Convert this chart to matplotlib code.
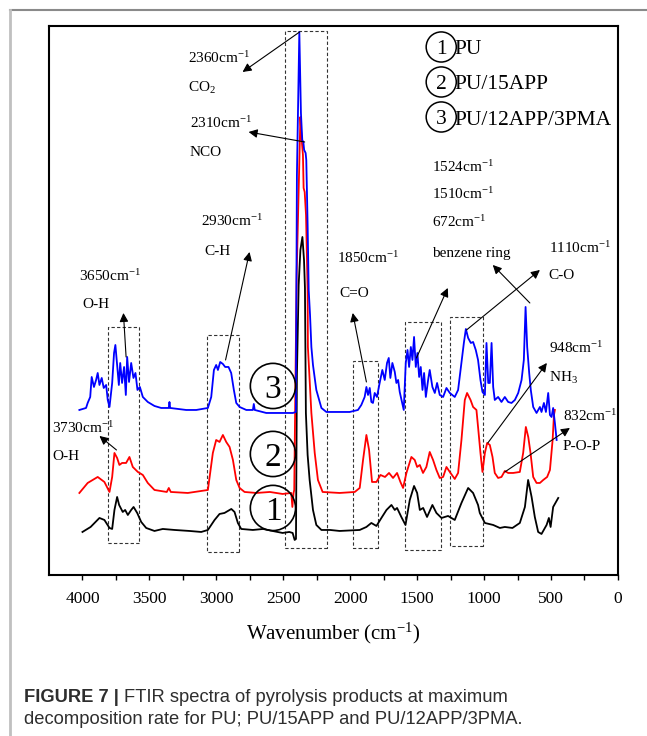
import matplotlib
matplotlib.use("Agg")
import matplotlib.pyplot as plt
from matplotlib.patches import Rectangle
from matplotlib.lines import Line2D

plt.rcParams["font.family"] = ["Liberation Serif", "DejaVu Serif"]
plt.rcParams["mathtext.fontset"] = "custom"
plt.rcParams["mathtext.rm"] = "Liberation Serif"
plt.rcParams["mathtext.it"] = "Liberation Serif:italic"

# ---- spectra (wavenumber in cm-1, intensity in a.u., curves offset) ----
pu_wn = [4000, 3939, 3873, 3836, 3798, 3778, 3761, 3741, 3726, 3699,
         3681, 3661, 3636, 3618, 3591, 3561, 3524, 3462, 3400, 3312,
         3200, 3113, 3063, 3013, 2976, 2939, 2888, 2864, 2839, 2814,
         2727, 2650, 2580, 2505, 2455, 2430, 2415, 2405, 2398, 2385,
         2372, 2357, 2345, 2338, 2331, 2318, 2303, 2278, 2253, 2215,
         2150, 2079, 1929, 1879, 1842, 1804, 1767, 1729, 1692, 1667,
         1650, 1618, 1587, 1555, 1523, 1500, 1480, 1455, 1426, 1386,
         1356, 1318, 1269, 1219, 1169, 1119, 1082, 1045, 1032, 994,
         932, 882, 845, 788, 733, 695, 671, 645, 621, 596,
         571, 533, 516, 503, 484, 446]
pu_ab = [4.3, 4.8, 5.7, 5.5, 4.7, 4.6, 6.5, 7.8, 7.0, 6.3,
         6.5, 6.0, 6.5, 6.8, 6.2, 5.3, 4.7, 4.4, 4.6, 4.5,
         4.4, 4.3, 4.5, 5.5, 6.1, 6.2, 6.6, 6.3, 5.2, 4.6,
         4.5, 4.6, 4.4, 4.2, 4.3, 4.2, 3.5, 3.6, 20.0, 29.0,
         32.5, 33.8, 31.5, 28.7, 16.2, 12.0, 9.5, 6.5, 5.0, 4.5,
         4.5, 4.4, 4.5, 4.8, 5.2, 4.9, 5.7, 6.5, 7.0, 6.5,
         6.7, 5.8, 5.0, 7.5, 8.9, 8.2, 6.5, 6.7, 5.8, 7.0,
         6.2, 5.7, 5.9, 5.5, 7.2, 8.7, 8.2, 7.0, 6.2, 5.2,
         5.0, 4.7, 4.8, 4.7, 5.2, 6.8, 9.5, 7.8, 5.8, 4.3,
         4.1, 5.0, 5.7, 4.8, 6.8, 7.7]

app_wn = [4023, 3961, 3886, 3836, 3798, 3778, 3761, 3741, 3724, 3704,
          3674, 3649, 3624, 3586, 3549, 3512, 3462, 3370, 3355, 3340,
          3213, 3113, 3063, 3026, 3001, 2976, 2951, 2926, 2901, 2876,
          2851, 2826, 2789, 2700, 2600, 2505, 2440, 2432, 2423, 2418,
          2400, 2372, 2365, 2353, 2348, 2340, 2330, 2318, 2316, 2303,
          2290, 2265, 2241, 2206, 2079, 1966, 1929, 1904, 1879, 1859,
          1837, 1804, 1774, 1740, 1710, 1680, 1650, 1625, 1605, 1580,
          1543, 1518, 1500, 1480, 1456, 1431, 1406, 1381, 1356, 1331,
          1306, 1281, 1256, 1219, 1194, 1169, 1144, 1127, 1101, 1082,
          1057, 1045, 1027, 1012, 994, 977, 957, 937, 920, 895,
          870, 845, 820, 783, 733, 708, 688, 670, 653, 633,
          608, 583, 558, 529, 508, 488, 478, 471]
app_ab = [8.2, 9.2, 9.8, 9.3, 8.3, 9.8, 12.2, 11.7, 11.0, 11.2,
          11.2, 11.8, 10.8, 10.3, 10.0, 9.2, 8.5, 8.3, 8.7, 8.3,
          8.2, 8.4, 8.5, 12.2, 13.5, 13.3, 14.0, 13.3, 12.8, 11.5,
          9.5, 8.7, 8.3, 8.2, 8.3, 8.1, 8.2, 6.8, 8.2, 8.5,
          30.0, 45.8, 44.0, 42.0, 38.7, 38.3, 36.0, 28.5, 22.8, 19.5,
          16.2, 12.2, 9.5, 8.3, 8.2, 8.3, 8.7, 11.5, 14.0, 12.5,
          9.3, 9.3, 10.0, 9.8, 10.2, 9.7, 10.2, 9.3, 8.7, 10.2,
          11.8, 11.5, 10.8, 11.0, 10.2, 10.8, 12.3, 11.5, 10.5, 9.7,
          9.8, 10.8, 10.3, 9.6, 10.2, 13.5, 17.5, 18.2, 17.5, 16.8,
          16.5, 14.8, 12.2, 10.3, 12.2, 13.2, 13.0, 11.8, 10.2, 9.7,
          9.8, 10.4, 10.2, 10.2, 10.3, 12.2, 14.8, 13.8, 12.2, 9.8,
          9.2, 9.2, 9.5, 9.8, 10.5, 13.5, 16.0, 16.5]

pma_wn = [4023, 3973, 3961, 3942, 3931, 3914, 3898, 3886, 3873, 3856,
          3841, 3823, 3811, 3798, 3778, 3764, 3754, 3741, 3728, 3718,
          3704, 3689, 3676, 3666, 3652, 3636, 3619, 3604, 3589, 3571,
          3549, 3512, 3462, 3412, 3355, 3350, 3345, 3225, 3150, 3063,
          3038, 3018, 3001, 2988, 2971, 2951, 2934, 2909, 2889, 2869,
          2851, 2826, 2776, 2727, 2720, 2713, 2627, 2428, 2406, 2398,
          2380, 2368, 2358, 2350, 2344, 2333, 2328, 2318, 2310, 2300,
          2290, 2278, 2253, 2215, 2178, 2079, 2004, 1942, 1917, 1892,
          1879, 1867, 1854, 1842, 1830, 1817, 1800, 1780, 1760, 1742,
          1725, 1712, 1700, 1685, 1667, 1655, 1642, 1630, 1613, 1600,
          1585, 1572, 1560, 1547, 1535, 1523, 1510, 1498, 1485, 1473,
          1460, 1448, 1435, 1418, 1406, 1386, 1368, 1351, 1331, 1306,
          1281, 1256, 1219, 1194, 1169, 1151, 1136, 1119, 1099, 1082,
          1062, 1045, 1027, 1012, 994, 982, 969, 957, 944, 932,
          920, 895, 870, 845, 820, 795, 770, 745, 720, 703,
          690, 678, 663, 651, 633, 608, 583, 571, 553, 538,
          521, 508, 496, 484, 471, 458]
pma_ab = [16.5, 16.7, 17.2, 17.8, 19.8, 18.8, 19.5, 20.2, 19.0, 19.7,
          18.7, 19.0, 17.5, 16.8, 19.2, 22.2, 23.0, 21.0, 19.0, 21.2,
          19.2, 20.8, 18.0, 21.8, 19.3, 21.2, 19.7, 20.2, 18.5, 18.8,
          17.8, 17.3, 16.9, 16.7, 16.7, 17.3, 16.7, 16.5, 16.5, 16.7,
          17.8, 20.5, 21.0, 20.5, 21.3, 21.1, 20.8, 20.8, 20.2, 18.5,
          17.2, 16.8, 16.5, 16.5, 17.1, 16.5, 16.2, 16.2, 16.3, 40.0,
          54.3, 46.2, 43.5, 43.3, 42.5, 42.2, 41.5, 35.0, 28.5, 26.0,
          22.8, 21.0, 18.5, 16.7, 16.3, 16.3, 16.3, 16.5, 17.0, 17.8,
          18.8, 18.0, 18.7, 17.3, 17.2, 18.2, 17.8, 19.2, 20.5, 19.5,
          21.2, 21.7, 19.7, 21.2, 20.3, 19.2, 19.5, 18.3, 17.3, 16.5,
          21.2, 22.5, 20.8, 22.8, 21.5, 23.8, 20.8, 22.2, 19.8, 20.8,
          18.5, 20.2, 17.8, 19.5, 20.5, 18.8, 18.2, 19.2, 18.0, 17.8,
          18.7, 18.2, 17.8, 18.5, 21.2, 23.2, 24.6, 23.7, 23.2, 23.3,
          22.5, 21.5, 19.5, 18.3, 18.0, 23.2, 19.2, 19.2, 23.2, 18.8,
          17.5, 17.8, 17.3, 17.8, 17.3, 17.2, 17.5, 18.2, 19.5, 21.5,
          26.8, 22.8, 20.2, 18.5, 16.8, 16.2, 16.8, 16.3, 17.2, 16.3,
          18.2, 16.0, 15.8, 16.7, 15.2, 13.5]

tick_vals = [4000, 3500, 3000, 2500, 2000, 1500, 1000, 500, 0]

# highlighted bands: (wn_high, wn_low, ab_low, ab_high)
bands = [(3811, 3574, 3.2, 24.8), (3068, 2832, 2.3, 24.0), (2485, 2174, 2.7, 54.4),
         (1979, 1792, 2.7, 21.4), (1587, 1323, 2.5, 25.3), (1256, 1007, 2.9, 25.8)]

# peak assignments: (text, x, y)
labels = [
    ("2360cm$^{-1}$", 3215, 51.2), ("CO$_2$", 3208, 48.3),
    ("2310cm$^{-1}$", 3200, 44.7), ("NCO", 3200, 41.9),
    ("2930cm$^{-1}$", 3118, 34.9), ("C-H", 3088, 32.0),
    ("3650cm$^{-1}$", 4023, 29.4), ("O-H", 3999, 26.7),
    ("3730cm$^{-1}$", 4224, 14.2), ("O-H", 4224, 11.5),
    ("1524cm$^{-1}$", 1391, 40.3), ("1510cm$^{-1}$", 1391, 37.6),
    ("672cm$^{-1}$", 1391, 34.8), ("benzene ring", 1391, 31.8),
    ("1110cm$^{-1}$", 516, 32.2), ("C-O", 516, 29.6),
    ("1850cm$^{-1}$", 2101, 31.2), ("C=O", 2079, 27.8),
    ("948cm$^{-1}$", 516, 22.2), ("NH$_3$", 516, 19.3),
    ("832cm$^{-1}$", 411, 15.4), ("P-O-P", 411, 12.5),
]

# arrows: (tail x, tail y, head x, head y)
arrows = [
    (2378, 54.3, 2804, 50.3), (2340, 43.3, 2759, 44.3), (2931, 21.5, 2752, 32.3),
    (3674, 21.8, 3694, 26.2), (3746, 12.5, 3873, 13.9), (1879, 19.3, 1981, 26.2),
    (1505, 21.7, 1271, 28.7), (1131, 24.5, 583, 30.5), (658, 27.2, 935, 31.0),
    (972, 13.2, 531, 21.2), (845, 10.3, 359, 14.7),
]

legend_names = ["PU", "PU/15APP", "PU/12APP/3PMA"]
legend_y = [52.8, 49.3, 45.8]
legend_text_y = [52.1, 48.6, 45.0]
curve_mark_y = [6.7, 12.1, 18.9]

fig = plt.figure(figsize=(6.47, 7.36), dpi=100)
ax = fig.add_axes([0.0757, 0.2188, 0.8794, 0.7459])

ax.plot(pu_wn, pu_ab, color="black", lw=1.3, zorder=3)
ax.plot(app_wn, app_ab, color="red", lw=1.3, zorder=3)
ax.plot(pma_wn, pma_ab, color="blue", lw=1.3, zorder=3)

for hi, lo, b, t in bands:
    ax.add_patch(Rectangle((lo, b), hi - lo, t - b, fill=False, ec="#333333",
                           lw=0.8, ls=(0, (3, 2)), zorder=2))

for txt, x, y in labels:
    ax.text(x, y, txt, fontsize=11, ha="left", va="baseline")

for x0, y0, x1, y1 in arrows:
    ax.annotate("", xy=(x1, y1), xytext=(x0, y0),
                arrowprops=dict(arrowstyle="-|>", color="black", lw=0.8,
                                mutation_scale=13, shrinkA=0, shrinkB=0))

# circled numbers: legend block and on the curves
for i, name in enumerate(legend_names):
    ax.scatter([1320], [legend_y[i]], s=470, facecolors="none",
               edgecolors="black", linewidths=1.1, zorder=5)
    ax.text(1320, legend_y[i], str(i + 1), fontsize=15.5, ha="center",
            va="center_baseline")
    ax.text(1219, legend_text_y[i], name, fontsize=15.5, ha="left", va="baseline")
    ax.scatter([2577], [curve_mark_y[i]], s=1060, facecolors="none",
               edgecolors="black", linewidths=1.2, zorder=5)
    ax.text(2577, curve_mark_y[i], str(i + 1), fontsize=24, ha="center",
            va="center_baseline")

ax.set_xlim(4250, 0)
ax.set_ylim(0, 54.9)
ax.set_yticks([])
ax.set_xticks(tick_vals)
ax.set_xticks(range(250, 4250, 500), minor=True)
ax.tick_params(axis="x", which="both", direction="out", length=3.5, width=1,
               labelsize=12.5, pad=8)
for sp in ax.spines.values():
    sp.set_linewidth(1.5)
ax.set_xlabel("Wavenumber (cm$^{-1}$)", fontsize=15)
ax.xaxis.set_label_coords(0.5, -0.083)

# figure frame lines and caption
fig.add_artist(Line2D([10 / 647, 1], [1 - 10 / 736] * 2, color="#8a8a8a", lw=1.5))
fig.add_artist(Line2D([10 / 647] * 2, [0, 1 - 10 / 736], color="#c0c0c0", lw=2))

cap_kw = dict(family="Liberation Sans", fontsize=13.2, color="#2e2e2e", va="baseline")
head = fig.text(24 / 647, 1 - 702 / 736, "FIGURE 7 | ", fontweight="bold", **cap_kw)
fig.canvas.draw()
bb = head.get_window_extent()
fig.text(bb.x1 / fig.bbox.width, 1 - 702 / 736,
         "FTIR spectra of pyrolysis products at maximum", **cap_kw)
fig.text(24 / 647, 1 - 724 / 736,
         "decomposition rate for PU; PU/15APP and PU/12APP/3PMA.", **cap_kw)

fig.savefig("out.png", dpi=100)
